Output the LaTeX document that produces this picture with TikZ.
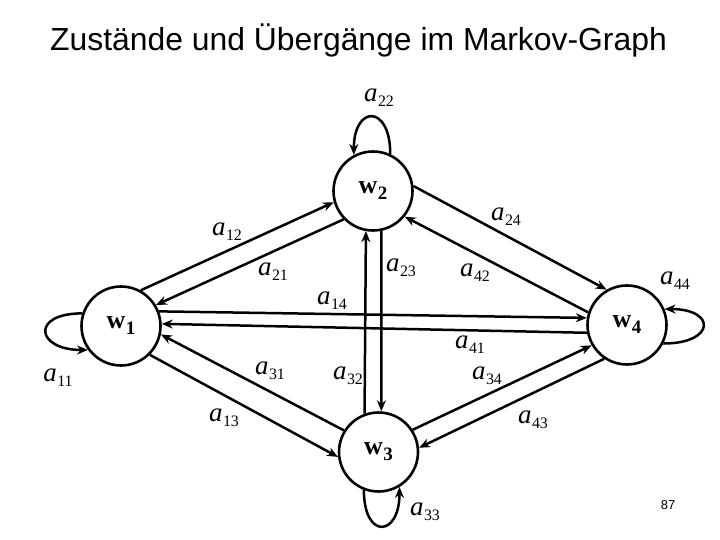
\documentclass[tikz,border=0pt]{standalone}
\usepackage{fontspec}
\setmainfont{Liberation Serif}
\newfontfamily\slidefont{Liberation Sans}
\usepackage{tikz}
\usetikzlibrary{arrows.meta}

\newcommand{\aij}[1]{\textit{a}\kern0.5bp\raisebox{-5bp}{\fontsize{16}{16}\selectfont #1}}
\newcommand{\wi}[1]{\textbf{w}\kern0.5bp\raisebox{-6bp}{\fontsize{19}{19}\selectfont\bfseries #1}}

\begin{document}
\begin{tikzpicture}[x=1bp,y=1bp,>={Stealth[length=11bp,width=9bp]},
    state/.style={circle,draw,line width=2.6bp,minimum size=79bp,inner sep=0pt,font=\fontsize{26}{26}\selectfont},
    lab/.style={inner sep=0pt,font=\fontsize{27}{27}\selectfont},
    trans/.style={->,line width=2.5bp}]
    \useasboundingbox (0,0) rectangle (720,540);
    \node[anchor=base,font=\slidefont\fontsize{32}{38}\selectfont] (title) at (358.5,489) {Zustände und Übergänge im Markov-Graph};
    \node[font=\slidefont\fontsize{13}{13}\selectfont] (page) at (668,35) {87};
    % states
    \node[state] (w1) at (121,214) {\wi{1}};
    \node[state] (w2) at (373,349) {\wi{2}};
    \node[state] (w3) at (378.5,88) {\wi{3}};
    \node[state] (w4) at (627,215) {\wi{4}};
    % transitions
    \draw[trans] (w1.61) -- (w2.196);
    \draw[trans] (w2.224) -- (w1.31);
    \draw[trans] (w1.21) -- (w4.170);
    \draw[trans] (w4.191) -- (w1.3);
    \draw[trans] (w2.282) -- (w3.86);
    \draw[trans] (w3.110) -- (w2.260);
    \draw[trans] (w2.7) -- (w4.120);
    \draw[trans] (w4.162) -- (w2.321);
    \draw[trans] (w1.-45) -- (w3.187);
    \draw[trans] (w3.148) -- (w1.-12);
    \draw[trans] (w3.33) -- (w4.210);
    \draw[trans] (w4.236) -- (w3.6);
    % self loops
    \draw[trans] (w2.65) .. controls +(90:50) and +(90:50) .. (w2.118);
    \draw[trans] (w1.162) .. controls +(180:52) and +(180:52) .. (w1.216);
    \draw[trans] (w4.333) .. controls +(0:52) and +(0:52) .. (w4.23);
    \draw[trans] (w3.249) .. controls +(270:50) and +(270:50) .. (w3.301);
    % labels
    \node[lab] (l22) at (379,442) {\aij{22}};
    \node[lab] (l12) at (227,308) {\aij{12}};
    \node[lab] (l21) at (273,268) {\aij{21}};
    \node[lab] (l14) at (332,239) {\aij{14}};
    \node[lab] (l24) at (506,323) {\aij{24}};
    \node[lab] (l23) at (401,272) {\aij{23}};
    \node[lab] (l42) at (475,267) {\aij{42}};
    \node[lab] (l44) at (675,259) {\aij{44}};
    \node[lab] (l41) at (470,195) {\aij{41}};
    \node[lab] (l31) at (270,169) {\aij{31}};
    \node[lab] (l32) at (348,164) {\aij{32}};
    \node[lab] (l34) at (487,164) {\aij{34}};
    \node[lab] (l11) at (58,162) {\aij{11}};
    \node[lab] (l13) at (224,122) {\aij{13}};
    \node[lab] (l43) at (533,120) {\aij{43}};
    \node[lab] (l33) at (425,28) {\aij{33}};
\end{tikzpicture}
\end{document}
